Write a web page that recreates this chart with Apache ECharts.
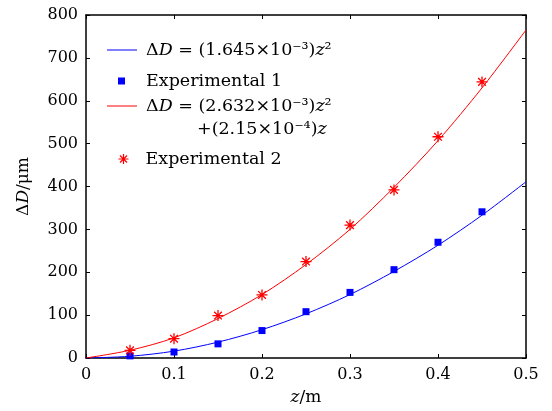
<!DOCTYPE html>
<html>
<head>
<meta charset="utf-8">
<script src="https://cdn.jsdelivr.net/npm/echarts@6/dist/echarts.min.js"></script>
<style>
html,body{margin:0;padding:0;background:#fff;}
#chart{width:552px;height:411px;}
</style>
</head>
<body>
<div id="chart"></div>
<script>
// Data
const fitZ = [0, 0.05, 0.1, 0.15, 0.2, 0.25, 0.3, 0.35, 0.4, 0.45, 0.5];
const fit1 = [0, 4, 16, 37, 66, 103, 148, 202, 263, 333, 411];
const fit2 = [0, 18, 47, 92, 148, 218, 300, 398, 507, 630, 765];
const expZ = [0.05, 0.1, 0.15, 0.2, 0.25, 0.3, 0.35, 0.4, 0.45];
const exp1 = [5, 14, 33, 64, 108, 153, 206, 270, 341];
const exp2 = [18, 45, 99, 147, 225, 310, 392, 516, 644];
const xTicks = [0, 0.1, 0.2, 0.3, 0.4, 0.5];
const yTicks = [0, 100, 200, 300, 400, 500, 600, 700, 800];

const labels = {
  fit1: 'Δ{i|D} = (1.645×10⁻³){i|z}²',
  exp1: 'Experimental 1',
  fit2: 'Δ{i|D} = (2.632×10⁻³){i|z}²',
  exp2: 'Experimental 2'
};
const FONT = 'DejaVu Serif';
const LF = 17.5; // legend font size
const TF = 16;   // tick font size
const NF = 17;   // axis name font size
const richL = { i: { fontStyle: 'italic', fontFamily: FONT, fontSize: LF, color: '#000' } };
const richN = { i: { fontStyle: 'italic', fontFamily: FONT, fontSize: NF, color: '#000' } };
const star = 'path://M0,-5L0,5M-5,0L5,0M-3.5,-3.5L3.5,3.5M-3.5,3.5L3.5,-3.5';

const pair = (xs, ys) => xs.map((x, i) => [x, ys[i]]);

function legendFor(name, top, cfg, pad) {
  return Object.assign({
    orient: 'vertical', top: top, padding: 0,
    data: [name],
    itemGap: 0,
    selectedMode: false,
    formatter: n => labels[n],
    textStyle: { fontFamily: FONT, fontSize: LF, color: '#000', rich: richL, padding: [0, 0, 0, pad] }
  }, cfg);
}

const axisCommon = {
  axisLine: { show: true, onZero: false, lineStyle: { color: '#000', width: 1.5 } },
  axisTick: { show: true, inside: true, length: 4, lineStyle: { color: '#000', width: 1 } },
  splitLine: { show: false }
};

const option = {
  animation: false,
  backgroundColor: '#fff',
  grid: { left: 86, top: 15, width: 440, height: 344, containLabel: false },
  legend: [
    legendFor('fit1', 41, { left: 107, itemWidth: 30, itemHeight: 1, icon: 'rect',
      itemStyle: { color: '#0000ff', opacity: 1 } }, 4),
    legendFor('exp1', 72, { left: 118, itemWidth: 7, itemHeight: 7, icon: 'rect',
      itemStyle: { color: '#0000ff', opacity: 1 } }, 16),
    legendFor('fit2', 97, { left: 107, itemWidth: 30, itemHeight: 1, icon: 'rect',
      itemStyle: { color: '#ff0000', opacity: 1 } }, 4),
    legendFor('exp2', 150, { left: 116, itemWidth: 10, itemHeight: 10, icon: star,
      itemStyle: { color: 'none', borderColor: '#ff0000', borderWidth: 1.2, opacity: 1 } }, 12)
  ],
  graphic: [{
    type: 'text', left: 197, top: 120,
    style: {
      text: '+(2.15×10⁻⁴){i|z}',
      font: LF + 'px ' + FONT, fill: '#000',
      rich: { i: { fontStyle: 'italic', fontFamily: FONT, fontSize: LF, fill: '#000' } }
    }
  }],
  xAxis: [
    Object.assign({}, axisCommon, {
      type: 'value', min: 0, max: 0.5, interval: 0.1, position: 'bottom',
      axisLabel: { fontFamily: FONT, fontSize: TF, color: '#000', margin: 9,
        formatter: v => String(+v.toFixed(1)) },
      name: '{i|z}/m', nameLocation: 'middle', nameGap: 31,
      nameTextStyle: { fontFamily: FONT, fontSize: NF, color: '#000', rich: richN }
    }),
    Object.assign({}, axisCommon, {
      type: 'value', min: 0, max: 0.5, interval: 0.1, position: 'top',
      axisLabel: { show: false }
    })
  ],
  yAxis: [
    Object.assign({}, axisCommon, {
      type: 'value', min: 0, max: 800, interval: 100, position: 'left',
      axisLabel: { fontFamily: FONT, fontSize: TF, color: '#000', margin: 8 },
      name: 'Δ{i|D}/μm', nameLocation: 'middle', nameGap: 54, nameRotate: 90,
      nameTextStyle: { fontFamily: FONT, fontSize: NF, color: '#000', rich: richN }
    }),
    Object.assign({}, axisCommon, {
      type: 'value', min: 0, max: 800, interval: 100, position: 'right',
      axisLabel: { show: false }
    })
  ],
  series: [
    { name: 'fit1', type: 'line', smooth: 0.3, symbol: 'none', data: pair(fitZ, fit1),
      lineStyle: { color: '#0000ff', width: 1 }, itemStyle: { color: '#0000ff' }, z: 2 },
    { name: 'exp1', type: 'scatter', symbol: 'rect', symbolSize: 7, data: pair(expZ, exp1),
      itemStyle: { color: '#0000ff', opacity: 1 }, z: 3 },
    { name: 'fit2', type: 'line', smooth: 0.3, symbol: 'none', data: pair(fitZ, fit2),
      lineStyle: { color: '#ff0000', width: 1 }, itemStyle: { color: '#ff0000' }, z: 2 },
    { name: 'exp2', type: 'scatter', symbol: star, symbolSize: 11, data: pair(expZ, exp2),
      itemStyle: { color: 'none', borderColor: '#ff0000', borderWidth: 1.3, opacity: 1 }, z: 3 }
  ]
};

const chart = echarts.init(document.getElementById('chart'), null, { renderer: 'canvas' });
chart.setOption(option);
</script>
</body>
</html>
